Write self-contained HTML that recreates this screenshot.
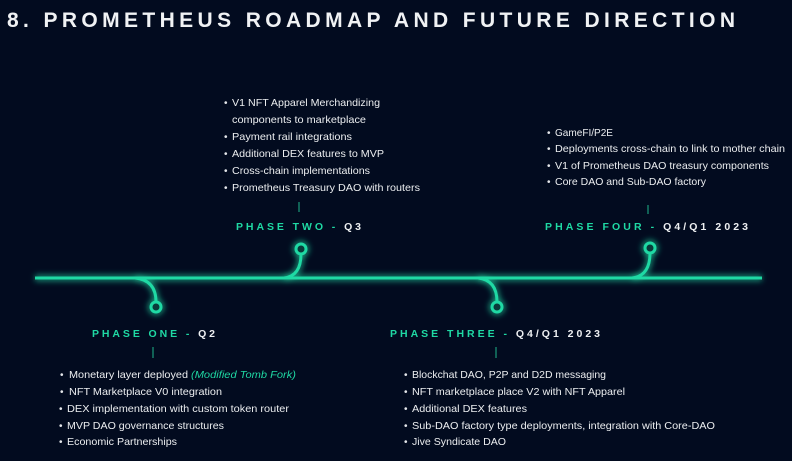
<!DOCTYPE html>
<html><head><meta charset="utf-8"><style>
html,body{margin:0;padding:0;background:#020b1f;}
svg{display:block;font-family:"Liberation Sans",sans-serif;}
.t{fill:#eceef0;font-size:10.5px;}
.b{fill:#e4e6ea;font-size:10px;}
.lab{font-size:10.5px;font-weight:bold;fill:#1fd9a4;}
.w{fill:#eef0f2;}
</style></head><body>
<svg width="792" height="461" viewBox="0 0 792 461">
<defs><filter id="g" x="-10%" y="-200%" width="120%" height="500%"><feGaussianBlur stdDeviation="3"/></filter></defs>
<rect width="792" height="461" fill="#020b1f"/>
<text x="7" y="27" font-size="21" font-weight="bold" fill="#f0f2f4" textLength="728" lengthAdjust="spacing">8. PROMETHEUS ROADMAP AND FUTURE DIRECTION</text>

<g>
<g filter="url(#g)" stroke="#1fd9a4" stroke-opacity="0.55" stroke-width="7" fill="none">
<path d="M35 278 H762"/>
<path d="M135 278 Q156 280 156 302"/><path d="M284 278 Q301 276 301 254"/>
<path d="M478 278 Q497 280 497 302"/><path d="M632 278 Q650 276 650 253"/>
<circle cx="156" cy="307" r="5"/><circle cx="301" cy="249" r="5"/><circle cx="497" cy="307" r="5"/><circle cx="650" cy="248" r="5"/>
</g>
<g stroke="#1fd9a4" stroke-width="3" fill="none">
<path d="M35 278 H762"/>
<path d="M135 278 Q156 280 156 302"/><path d="M284 278 Q301 276 301 254"/>
<path d="M478 278 Q497 280 497 302"/><path d="M632 278 Q650 276 650 253"/>
</g>
<g stroke="#1fd9a4" stroke-width="3" fill="#0a3a3a">
<circle cx="156" cy="307" r="5"/>
<circle cx="301" cy="249" r="5"/>
<circle cx="497" cy="307" r="5"/>
<circle cx="650" cy="248" r="5"/>
</g>
<g stroke="#1a9a7a" stroke-width="1.2">
<line x1="299" y1="202" x2="299" y2="212"/><line x1="648" y1="205" x2="648" y2="214"/>
<line x1="153" y1="347" x2="153" y2="358"/><line x1="496" y1="347" x2="496" y2="358"/>
</g>
</g>

<g>
<g class="b"><text x="224" y="106">•</text><text x="224" y="140">•</text><text x="224" y="157">•</text><text x="224" y="174">•</text><text x="224" y="191">•</text></g>
<text class="t" x="232" y="106" textLength="148" lengthAdjust="spacingAndGlyphs">V1 NFT Apparel Merchandizing</text>
<text class="t" x="232" y="123" textLength="134" lengthAdjust="spacingAndGlyphs">components to marketplace</text>
<text class="t" x="232" y="140" textLength="120" lengthAdjust="spacingAndGlyphs">Payment rail integrations</text>
<text class="t" x="232" y="157" textLength="152" lengthAdjust="spacingAndGlyphs">Additional DEX features to MVP</text>
<text class="t" x="232" y="174" textLength="138" lengthAdjust="spacingAndGlyphs">Cross-chain implementations</text>
<text class="t" x="232" y="191" textLength="188" lengthAdjust="spacingAndGlyphs">Prometheus Treasury DAO with routers</text>
<text class="lab" x="236" y="230" textLength="125" lengthAdjust="spacing">PHASE TWO - <tspan class="w">Q3</tspan></text>
</g>

<g>
<g class="b"><text x="547" y="136">•</text><text x="547" y="152">•</text><text x="547" y="169">•</text><text x="547" y="185">•</text></g>
<text class="t" x="555" y="136" textLength="58" lengthAdjust="spacingAndGlyphs">GameFI/P2E</text>
<text class="t" x="555" y="152" textLength="230" lengthAdjust="spacingAndGlyphs">Deployments cross-chain to link to mother chain</text>
<text class="t" x="555" y="169" textLength="214" lengthAdjust="spacingAndGlyphs">V1 of Prometheus DAO treasury components</text>
<text class="t" x="555" y="185" textLength="151" lengthAdjust="spacingAndGlyphs">Core DAO and Sub-DAO factory</text>
<text class="lab" x="545" y="230" textLength="203" lengthAdjust="spacing">PHASE FOUR - <tspan class="w">Q4/Q1 2023</tspan></text>
</g>

<g>
<text class="lab" x="92" y="337" textLength="123" lengthAdjust="spacing">PHASE ONE - <tspan class="w">Q2</tspan></text>
<g class="b"><text x="60" y="378">•</text><text x="60" y="395">•</text><text x="59" y="412">•</text><text x="59" y="429">•</text><text x="59" y="445">•</text></g>
<text class="t" x="69" y="378" textLength="119" lengthAdjust="spacingAndGlyphs">Monetary layer deployed</text>
<text x="191" y="378" font-size="10.5" font-style="italic" fill="#1fd9a4" textLength="105" lengthAdjust="spacingAndGlyphs">(Modified Tomb Fork)</text>
<text class="t" x="69" y="395" textLength="153" lengthAdjust="spacingAndGlyphs">NFT Marketplace V0 integration</text>
<text class="t" x="67" y="412" textLength="222" lengthAdjust="spacingAndGlyphs">DEX implementation with custom token router</text>
<text class="t" x="67" y="429" textLength="157" lengthAdjust="spacingAndGlyphs">MVP DAO governance structures</text>
<text class="t" x="67" y="445" textLength="110" lengthAdjust="spacingAndGlyphs">Economic Partnerships</text>
</g>

<g>
<text class="lab" x="390" y="337" textLength="210" lengthAdjust="spacing">PHASE THREE - <tspan class="w">Q4/Q1 2023</tspan></text>
<g class="b"><text x="404" y="378">•</text><text x="404" y="395">•</text><text x="404" y="412">•</text><text x="404" y="429">•</text><text x="404" y="445">•</text></g>
<text class="t" x="412" y="378" textLength="194" lengthAdjust="spacingAndGlyphs">Blockchat DAO, P2P and D2D messaging</text>
<text class="t" x="412" y="395" textLength="213" lengthAdjust="spacingAndGlyphs">NFT marketplace place V2 with NFT Apparel</text>
<text class="t" x="412" y="412" textLength="115" lengthAdjust="spacingAndGlyphs">Additional DEX features</text>
<text class="t" x="412" y="429" textLength="303" lengthAdjust="spacingAndGlyphs">Sub-DAO factory type deployments, integration with Core-DAO</text>
<text class="t" x="412" y="445" textLength="94" lengthAdjust="spacingAndGlyphs">Jive Syndicate DAO</text>
</g>
</svg>
</body></html>
